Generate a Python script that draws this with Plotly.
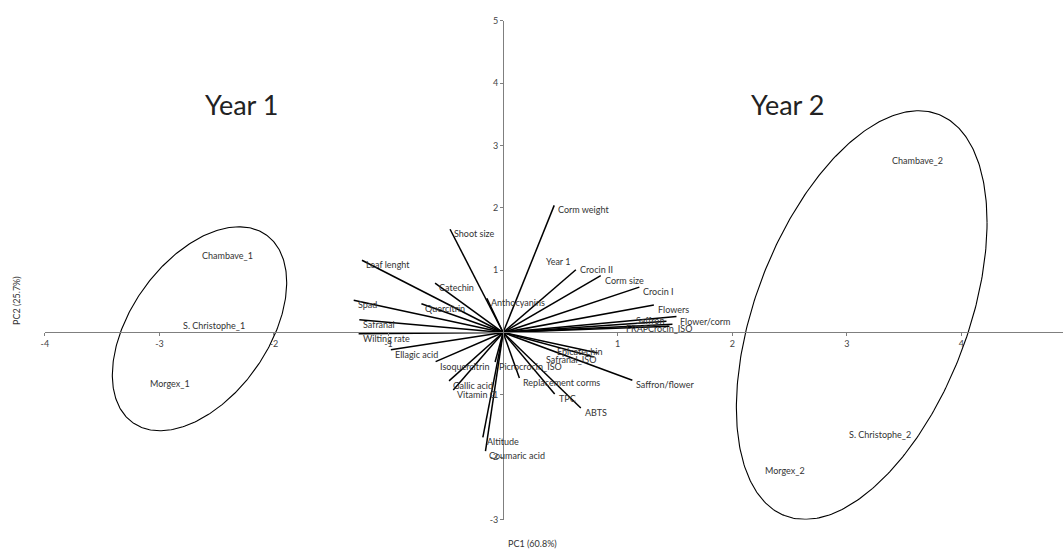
import numpy as np
import plotly.graph_objects as go

# ---- PCA biplot data -------------------------------------------------------
# variable loadings (PC1, PC2)
var_names = [
    "Shoot size", "Leaf lenght", "Catechin", "Spad", "Quercitrin", "Anthocyanins",
    "Safranal", "Wilting rate", "Ellagic acid", "Isoquercitrin", "Gallic acid",
    "Vitamin C", "Altitude", "Coumaric acid", "Picrocrocin_ISO", "Replacement corms",
    "TPC", "ABTS", "Saffron/flower", "Epicatechin", "Safranal_ISO", "Corm weight",
    "Crocin II", "Corm size", "Crocin I", "Flowers", "Flower/corm", "Saffron",
    "FRAP", "Crocin_ISO",
]
var_pc1 = [
    -0.463, -1.232, -0.594, -1.304, -0.713, -0.142,
    -1.255, -1.261, -0.980, -0.589, -0.472,
    -0.435, -0.177, -0.154, -0.070, 0.142,
    0.450, 0.678, 1.128, 0.826, 0.791, 0.446,
    0.635, 0.852, 1.189, 1.316, 1.513, 1.426,
    1.452, 1.478,
]
var_pc2 = [
    1.656, 1.159, 0.791, 0.519, 0.461, 0.550,
    0.204, -0.020, -0.278, -0.467, -0.775,
    -0.923, -1.682, -1.903, -0.472, -0.728,
    -0.986, -1.211, -0.766, -0.330, -0.393, 2.039,
    1.006, 0.912, 0.728, 0.440, 0.256, 0.181,
    0.102, 0.134,
]

# supplementary variable shown as a label only
supp_names = ["Year 1"]
supp_pc1 = [0.339]
supp_pc2 = [1.219]

# sample scores
sample_names = ["Chambave_1", "S. Christophe_1", "Morgex_1",
                "Chambave_2", "S. Christophe_2", "Morgex_2"]
sample_pc1 = [-2.643, -2.809, -3.096, 3.374, 3.000, 2.270]
sample_pc2 = [1.242, 0.110, -0.818, 2.756, -1.630, -2.217]

# group ellipses: centre, half-widths along PC1 / PC2, phase coupling
group_titles = ["Year 1", "Year 2"]
ell_cx = [-2.65, 3.13]
ell_cy = [0.06, 0.28]
ell_rx = [0.761, 1.094]
ell_ry = [1.635, 3.276]
ell_phase = [1.10, 1.10]

x_ticks = [-4, -3, -2, -1, 1, 2, 3, 4]
y_ticks = [-3, -2, -1, 1, 2, 3, 4, 5]

# ---- styling --------------------------------------------------------------
W, H = 1063, 555
FONT = "Lato"
LBL = dict(family=FONT, size=9, color="#333333")

# pixel nudges for crowded labels (dx right, dy down) relative to vector tip
default_nudge = (2, 4.5)
label_nudge = {
    "Crocin II": (2, 0),
    "Saffron": (-32, -0.5),
    "FRAP": (-45, 2.2),
    "Crocin_ISO": (-26, 4),
    "Epicatechin": (-43, -2),
    "Safranal_ISO": (-50, 2),
}

fig = go.Figure()

# loading vectors from the origin
vx, vy = [], []
for x, y in zip(var_pc1, var_pc2):
    vx += [0, x, None]
    vy += [0, y, None]
fig.add_trace(go.Scatter(x=vx, y=vy, mode="lines",
                         line=dict(color="black", width=1.5),
                         hoverinfo="skip", showlegend=False))

# ellipses around each year group
t = np.linspace(0, 2 * np.pi, 361)
for cx, cy, rx, ry, ph in zip(ell_cx, ell_cy, ell_rx, ell_ry, ell_phase):
    fig.add_trace(go.Scatter(x=cx + rx * np.cos(t), y=cy + ry * np.cos(t - ph),
                             mode="lines", line=dict(color="black", width=1.1),
                             hoverinfo="skip", showlegend=False))

annotations = []
for name, x, y in zip(var_names, var_pc1, var_pc2):
    dx, dy = label_nudge.get(name, default_nudge)
    annotations.append(dict(x=x, y=y, xref="x", yref="y", text=name,
                            showarrow=False, xanchor="left", yanchor="middle",
                            xshift=dx, yshift=-dy, font=LBL))
for name, x, y in zip(supp_names, supp_pc1, supp_pc2):
    dx, dy = default_nudge
    annotations.append(dict(x=x, y=y, xref="x", yref="y", text=name,
                            showarrow=False, xanchor="left", yanchor="middle",
                            xshift=dx, yshift=-dy, font=LBL))
for name, x, y in zip(sample_names, sample_pc1, sample_pc2):
    annotations.append(dict(x=x, y=y, xref="x", yref="y", text=name,
                            showarrow=False, xanchor="left", yanchor="middle",
                            font=LBL))

# group titles
for title, xp in zip(group_titles, [238 / W, 786 / W]):
    annotations.append(dict(x=xp, y=1 - 100 / H, xref="paper", yref="paper",
                            text=title, showarrow=False, xanchor="center",
                            yanchor="middle",
                            font=dict(family=FONT, size=27, color="#222222")))

# axis titles
annotations.append(dict(x=530 / W, y=1 - 548 / H, xref="paper", yref="paper",
                        text="PC1 (60.8%)", showarrow=False, font=LBL,
                        xanchor="center", yanchor="middle"))
annotations.append(dict(x=12 / W, y=1 - 300 / H, xref="paper", yref="paper",
                        text="PC2 (25.7%)", showarrow=False, font=LBL,
                        textangle=-90, xanchor="center", yanchor="middle"))

# axes crossing at the origin
x_left, y_top, y_bot, x0_px, y0_px = 41, 15, 524, 501, 333
axis_common = dict(showgrid=False, zeroline=False, showline=True,
                   linecolor="#7f7f7f", linewidth=1, ticks="outside",
                   ticklen=3, tickcolor="#7f7f7f",
                   tickfont=dict(family=FONT, size=9, color="#444444"),
                   anchor="free", fixedrange=True)

fig.update_layout(
    width=W, height=H,
    margin=dict(l=0, r=0, t=0, b=0),
    paper_bgcolor="white", plot_bgcolor="white",
    showlegend=False,
    xaxis=dict(domain=[x_left / W, 1], range=[-4, -4 + (W - x_left) / 115.0],
               tickvals=x_ticks, ticktext=[str(v) for v in x_ticks],
               position=1 - y0_px / H, **axis_common),
    yaxis=dict(domain=[1 - y_bot / H, 1 - y_top / H], range=[-3, 5],
               tickvals=y_ticks, ticktext=[str(v) for v in y_ticks],
               position=x0_px / W, **axis_common),
    annotations=annotations,
)

fig.write_html("out.html")
